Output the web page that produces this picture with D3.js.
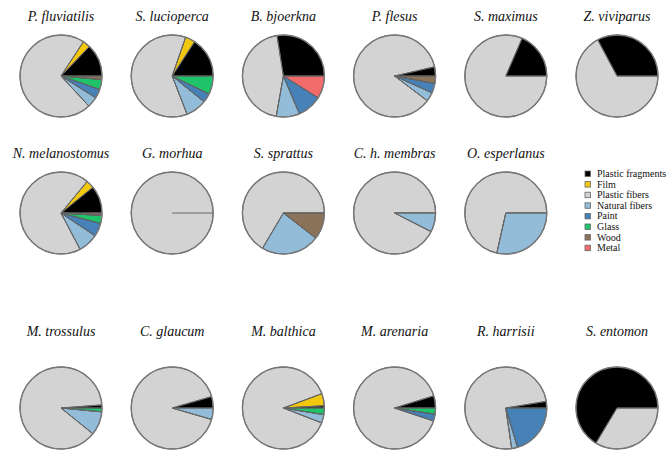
<!DOCTYPE html>
<html>
<head>
<meta charset="utf-8">
<script src="https://cdn.jsdelivr.net/npm/d3@7"></script>
<style>
  body { margin: 0; background: #fff; }
</style>
</head>
<body>
<div id="vis"></div>
<script>
// categories, in drawing order (counter-clockwise from 3 o'clock)
var categories = ["Plastic fragments", "Film", "Plastic fibers", "Natural fibers", "Paint", "Glass", "Wood", "Metal"];
var catColors = ["#000000", "#f2c80f", "#d3d3d3", "#92bcd8", "#4682b8", "#1fc46a", "#8a7358", "#f26b6b"];

var species = ["P. fluviatilis", "S. lucioperca", "B. bjoerkna", "P. flesus", "S. maximus", "Z. viviparus",
  "N. melanostomus", "G. morhua", "S. sprattus", "C. h. membras", "O. esperlanus",
  "M. trossulus", "C. glaucum", "M. balthica", "M. arenaria", "R. harrisii", "S. entomon"];

// percentage per category, same order as categories
var pFluviatilis   = [12.8, 3.0, 71.1, 4.2, 3.6, 3.9, 1.4, 0];
var sLucioperca    = [15.8, 3.9, 61.2, 8.3, 3.6, 7.2, 0, 0];
var bBjoerkna      = [27.5, 0, 44.7, 9.2, 9.7, 0, 0, 8.9];
var pFlesus        = [3.6, 0, 86.1, 3.6, 3.8, 0, 2.9, 0];
var sMaximus       = [18.5, 0, 81.5, 0, 0, 0, 0, 0];
var zViviparus     = [32.8, 0, 67.2, 0, 0, 0, 0, 0];
var nMelanostomus  = [10.8, 3.2, 68.7, 7.9, 5.3, 3.1, 0.3, 0.7];
var gMorhua        = [0, 0, 100, 0, 0, 0, 0, 0];
var sSprattus      = [0, 0, 66.5, 23.0, 0, 0, 10.5, 0];
var cHMembras      = [0, 0, 92.5, 7.5, 0, 0, 0, 0];
var oEsperlanus    = [0, 0, 71.5, 28.5, 0, 0, 0, 0];
var mTrossulus     = [1.2, 0, 88.0, 9.3, 0, 1.5, 0, 0];
var cGlaucum       = [4.5, 0, 91.0, 4.5, 0, 0, 0, 0];
var mBalthica      = [0.9, 4.8, 88.4, 3.3, 0, 2.6, 0, 0];
var mArenaria      = [4.8, 0, 90.1, 0, 2.7, 2.4, 0, 0];
var rHarrisii      = [2.6, 0, 74.7, 2.3, 20.4, 0, 0, 0];
var sEntomon       = [66.4, 0, 33.6, 0, 0, 0, 0, 0];

var values = [pFluviatilis, sLucioperca, bBjoerkna, pFlesus, sMaximus, zViviparus,
  nMelanostomus, gMorhua, sSprattus, cHMembras, oEsperlanus,
  mTrossulus, cGlaucum, mBalthica, mArenaria, rHarrisii, sEntomon];

// grid slot for each species: [column, row]
var slots = [[0,0],[1,0],[2,0],[3,0],[4,0],[5,0],
  [0,1],[1,1],[2,1],[3,1],[4,1],
  [0,2],[1,2],[2,2],[3,2],[4,2],[5,2]];

var width = 668, height = 452;
var radius = 41;
var serif = "Liberation Serif, DejaVu Serif, serif";

var colX = d3.scaleLinear().domain([0, 5]).range([61, 617]);
var rowY = d3.scaleOrdinal().domain([0, 1, 2]).range([76, 213, 408]);
var titleY = d3.scaleOrdinal().domain([0, 1, 2]).range([21, 158, 336]);

var color = d3.scaleOrdinal().domain(categories).range(catColors);

var svg = d3.select("#vis").append("svg")
  .attr("width", width)
  .attr("height", height);

// counter-clockwise starting at 3 o'clock
var pie = d3.pie()
  .sort(null)
  .value(function(d) { return d.v; })
  .startAngle(Math.PI / 2)
  .endAngle(Math.PI / 2 - 2 * Math.PI);

var arc = d3.arc().innerRadius(0).outerRadius(radius);

species.forEach(function(name, i) {
  var slot = slots[i];
  var g = svg.append("g")
    .attr("transform", "translate(" + colX(slot[0]) + "," + rowY(slot[1]) + ")");

  var data = categories.map(function(c, k) { return { cat: c, v: values[i][k] }; });
  var arcs = pie(data).filter(function(d) { return d.data.v > 0; });

  g.selectAll("path")
    .data(arcs)
    .enter()
    .append("path")
    .attr("d", arc)
    .attr("fill", function(d) { return color(d.data.cat); })
    .attr("stroke", "#4a4a4a")
    .attr("stroke-width", 0.8)
    .attr("stroke-linejoin", "round");

  // slice edges (also gives the single line on a full pie)
  g.selectAll("line")
    .data(arcs)
    .enter()
    .append("line")
    .attr("x1", 0).attr("y1", 0)
    .attr("x2", function(d) { return radius * Math.sin(d.startAngle); })
    .attr("y2", function(d) { return -radius * Math.cos(d.startAngle); })
    .attr("stroke", "#666")
    .attr("stroke-width", 1);

  g.append("circle")
    .attr("r", radius)
    .attr("fill", "none")
    .attr("stroke", "#777")
    .attr("stroke-width", 1.4);

  svg.append("text")
    .attr("x", colX(slot[0]))
    .attr("y", titleY(slot[1]))
    .attr("text-anchor", "middle")
    .attr("font-family", serif)
    .attr("font-style", "italic")
    .attr("font-size", 14)
    .attr("fill", "#111")
    .text(name);
});

// legend
var legend = svg.append("g")
  .attr("transform", "translate(585,174)");

var rows = legend.selectAll("g")
  .data(categories)
  .enter()
  .append("g")
  .attr("transform", function(d, i) { return "translate(0," + (i * 10.6) + ")"; });

rows.append("rect")
  .attr("x", 0)
  .attr("y", -3)
  .attr("width", 5.5)
  .attr("height", 5.5)
  .attr("fill", function(d) { return color(d); })
  .attr("stroke", "#666")
  .attr("stroke-width", 0.8);

rows.append("text")
  .attr("x", 12)
  .attr("y", 3)
  .attr("font-family", serif)
  .attr("font-size", 10)
  .attr("fill", "#111")
  .text(function(d) { return d; });
</script>
</body>
</html>
